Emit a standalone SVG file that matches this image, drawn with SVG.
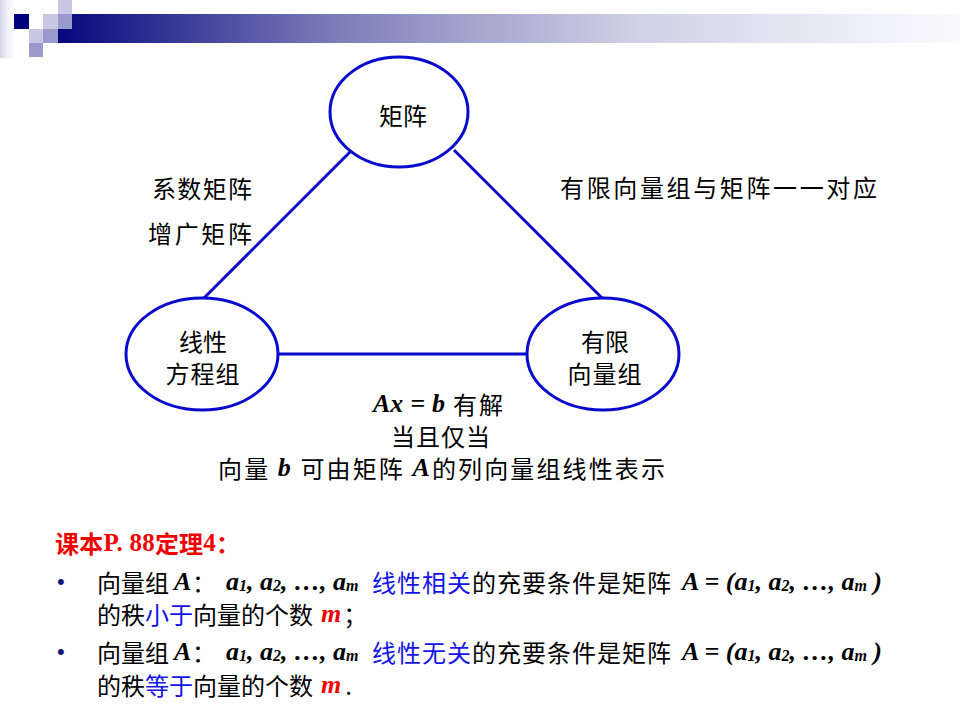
<svg xmlns="http://www.w3.org/2000/svg" width="960" height="720" viewBox="0 0 960 720">
<style>
.cjk{font-family:"Noto Sans CJK SC","Noto Sans",sans-serif;font-size:24px;fill:#000}
.li{font-family:"Liberation Serif",serif;font-weight:bold;font-style:italic;font-size:26px}
.sub{font-size:16px;baseline-shift:-4px}
.blue{fill:#1414e6}
.red{fill:#f00000}
.edge{stroke:#0a0acc;stroke-width:3;fill:none}
.node{stroke:#0a0acc;stroke-width:3;fill:#fff}
.lt{fill:#c8c8e4}
.md{fill:#9999cc}
</style>
<defs>
<linearGradient id="bar" x1="58" y1="0" x2="960" y2="0" gradientUnits="userSpaceOnUse">
<stop offset="0" stop-color="#06067e"/>
<stop offset="0.3" stop-color="#7a7ab8"/>
<stop offset="0.45" stop-color="#a2a2cd"/>
<stop offset="0.65" stop-color="#d2d2e8"/>
<stop offset="1" stop-color="#fbfbfe"/>
</linearGradient>
<linearGradient id="edgeg" x1="0" y1="0" x2="1" y2="0">
<stop offset="0" stop-color="#d2d2ea"/>
<stop offset="1" stop-color="#ffffff" stop-opacity="0"/>
</linearGradient>
</defs>
<rect width="960" height="720" fill="#fff"/>
<g id="decoration">
<rect x="0" y="0" width="18" height="58" fill="url(#edgeg)"/>
<rect x="58" y="14" width="902" height="29" fill="url(#bar)"/>
<rect x="58" y="0" width="14" height="14" class="lt"/>
<rect x="14" y="14" width="15" height="15" fill="#00007e"/>
<rect x="43" y="14" width="15" height="15" class="lt"/>
<rect x="58" y="14" width="14" height="15" class="md"/>
<rect x="29" y="29" width="14" height="14" class="lt"/>
<rect x="43" y="29" width="15" height="14" class="md"/>
<rect x="29" y="43" width="14" height="14" class="md"/>
</g>
<g id="connectors">
<line class="edge" x1="350" y1="152" x2="204" y2="298"/>
<line class="edge" x1="454" y1="150" x2="603" y2="299"/>
<line class="edge" x1="278" y1="354" x2="527" y2="354"/>
</g>
<g id="node-matrix">
<ellipse class="node" cx="399" cy="112" rx="69" ry="55"/>
<text class="cjk" x="403" y="114" text-anchor="middle" dominant-baseline="central">矩阵</text>
</g>
<g id="node-equations">
<ellipse class="node" cx="202" cy="354" rx="76" ry="56"/>
<text class="cjk" text-anchor="middle" dominant-baseline="central"><tspan x="203" y="340">线性</tspan><tspan x="203" y="372" letter-spacing="1">方程组</tspan></text>
</g>
<g id="node-vectors">
<ellipse class="node" cx="603" cy="354" rx="76" ry="56"/>
<text class="cjk" text-anchor="middle" dominant-baseline="central"><tspan x="605" y="340">有限</tspan><tspan x="605" y="372" letter-spacing="1">向量组</tspan></text>
</g>
<g id="labels">
<text class="cjk" x="152" y="187" dominant-baseline="central" textLength="100" lengthAdjust="spacing">系数矩阵</text>
<text class="cjk" x="148" y="232" dominant-baseline="central" textLength="104" lengthAdjust="spacing">增广矩阵</text>
<text class="cjk" x="560" y="186" dominant-baseline="central" textLength="317" lengthAdjust="spacing">有限向量组与矩阵一一对应</text>
<text class="cjk" text-anchor="middle" dominant-baseline="central"><tspan x="439" y="403"><tspan class="li">Ax</tspan><tspan class="li" dx="7">=</tspan><tspan class="li" dx="7">b</tspan><tspan dx="8" letter-spacing="2">有解</tspan></tspan><tspan x="441" y="435" letter-spacing="1">当且仅当</tspan></text>
<text class="cjk" x="218" y="467" dominant-baseline="central" textLength="447" lengthAdjust="spacing">向量 <tspan class="li">b</tspan> 可由矩阵 <tspan class="li">A</tspan>的列向量组线性表示</text>
</g>
<g id="theorem">
<text class="cjk red" x="55" y="542" dominant-baseline="central" font-weight="bold" textLength="185" lengthAdjust="spacing">课本<tspan font-family="Liberation Serif" font-size="25">P. 88</tspan>定理<tspan font-family="Liberation Serif" font-size="25">4</tspan>：</text>
<text x="57" y="581" dominant-baseline="central" font-family="Liberation Sans" font-size="22" fill="#14147a">•</text>
<text class="cjk" y="581" dominant-baseline="central"><tspan x="97">向量组</tspan><tspan class="li" x="174">A</tspan><tspan x="192">：</tspan><tspan class="li" x="226">a<tspan class="sub">1</tspan>, a<tspan class="sub">2</tspan>, …, a<tspan class="sub">m</tspan></tspan><tspan class="blue" x="372" letter-spacing="1">线性相关</tspan><tspan x="472" letter-spacing="1">的充要条件是矩阵</tspan><tspan class="li" x="682">A = (a<tspan class="sub">1</tspan>, a<tspan class="sub">2</tspan>, …, a<tspan class="sub">m</tspan> )</tspan></text>
<text class="cjk" y="613" dominant-baseline="central"><tspan x="97">的秩</tspan><tspan class="blue">小于</tspan><tspan>向量的个数</tspan><tspan class="li red" dx="8">m</tspan><tspan dx="2">；</tspan></text>
<text x="57" y="651" dominant-baseline="central" font-family="Liberation Sans" font-size="22" fill="#14147a">•</text>
<text class="cjk" y="651" dominant-baseline="central"><tspan x="97">向量组</tspan><tspan class="li" x="174">A</tspan><tspan x="192">：</tspan><tspan class="li" x="226">a<tspan class="sub">1</tspan>, a<tspan class="sub">2</tspan>, …, a<tspan class="sub">m</tspan></tspan><tspan class="blue" x="372" letter-spacing="1">线性无关</tspan><tspan x="472" letter-spacing="1">的充要条件是矩阵</tspan><tspan class="li" x="682">A = (a<tspan class="sub">1</tspan>, a<tspan class="sub">2</tspan>, …, a<tspan class="sub">m</tspan> )</tspan></text>
<text class="cjk" y="684" dominant-baseline="central"><tspan x="97">的秩</tspan><tspan class="blue">等于</tspan><tspan>向量的个数</tspan><tspan class="li red" dx="8">m</tspan><tspan dx="4">.</tspan></text>
</g>
</svg>
